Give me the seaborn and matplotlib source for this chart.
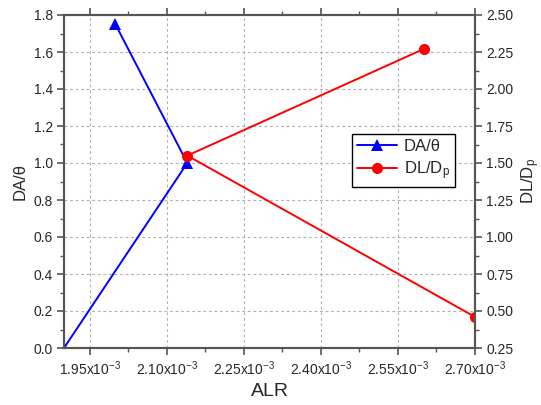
import matplotlib
matplotlib.use("Agg")
import matplotlib.pyplot as plt
import seaborn as sns
import pandas as pd
import numpy as np
from matplotlib.ticker import FixedLocator, FixedFormatter, MultipleLocator
from matplotlib.lines import Line2D

# data (ALR in units of 1e-3)
da_alr = [1.90, 2.14, 2.00]
da_val = [0.0, 1.0, 1.75]
dl_alr = [2.60, 2.14, 2.70]
dl_val = [2.27, 1.55, 0.46]
x_ticks = [1.95, 2.10, 2.25, 2.40, 2.55, 2.70]
x_tick_labels = [r'1.95x10$^{\mathregular{-3}}$', r'2.10x10$^{\mathregular{-3}}$',
                 r'2.25x10$^{\mathregular{-3}}$', r'2.40x10$^{\mathregular{-3}}$',
                 r'2.55x10$^{\mathregular{-3}}$', r'2.70x10$^{\mathregular{-3}}$']

sns.set_style("white")
plt.rcParams['font.family'] = ['Liberation Sans', 'DejaVu Sans']
plt.rcParams['mathtext.fontset'] = 'custom'
plt.rcParams['mathtext.rm'] = 'Liberation Sans'
plt.rcParams['mathtext.it'] = 'Liberation Sans'
plt.rcParams['mathtext.default'] = 'regular'

df_da = pd.DataFrame({'ALR': da_alr, 'val': da_val})
df_dl = pd.DataFrame({'ALR': dl_alr, 'val': dl_val})

fig = plt.figure(figsize=(5.41, 4.05), dpi=100)
ax = fig.add_axes([64/541, 1-348/405, (475-64)/541, (348-15)/405])
ax.set_axisbelow(True)
ax2 = ax.twinx()

sns.lineplot(data=df_da, x='ALR', y='val', sort=False, ax=ax, color='#0000ff',
             marker='^', markersize=8, markeredgewidth=0, linewidth=1.4, estimator=None)
sns.lineplot(data=df_dl, x='ALR', y='val', sort=False, ax=ax2, color='#ff0000',
             marker='o', markersize=8, markeredgewidth=0, linewidth=1.4, estimator=None)

ax.set_xlim(1.90, 2.70)
ax.set_ylim(0, 1.8)
ax2.set_ylim(0.25, 2.50)

ax.xaxis.set_major_locator(FixedLocator(x_ticks))
ax.xaxis.set_major_formatter(FixedFormatter(x_tick_labels))
ax.xaxis.set_minor_locator(FixedLocator([1.875 + 0.075*i for i in range(12)]))
ax.yaxis.set_major_locator(MultipleLocator(0.2))
ax.yaxis.set_minor_locator(MultipleLocator(0.1))
ax.yaxis.set_major_formatter(matplotlib.ticker.FormatStrFormatter('%.1f'))
ax2.yaxis.set_major_locator(MultipleLocator(0.25))
ax2.yaxis.set_minor_locator(MultipleLocator(0.125))
ax2.yaxis.set_major_formatter(matplotlib.ticker.FormatStrFormatter('%.2f'))

ax.grid(True, which='major', linestyle=(0, (2.5, 2.5)), color='#b0b0b0', linewidth=0.8)
ax2.grid(False)

spine_col = '#555555'
for a in (ax, ax2):
    for s in a.spines.values():
        s.set_color(spine_col)
        s.set_linewidth(1.5)
        s.set_visible(True)

ax.tick_params(axis='both', which='major', direction='out', length=5, width=1.2,
               color=spine_col, labelsize=10, top=True, bottom=True, left=True, right=False,
               labeltop=False, pad=3)
ax.tick_params(axis='both', which='minor', direction='out', length=3, width=1.0,
               color=spine_col, top=True, bottom=True, left=True, right=False)
ax2.tick_params(axis='y', which='major', direction='out', length=5, width=1.2,
                color=spine_col, labelsize=10, right=True, pad=3)
ax2.tick_params(axis='y', which='minor', direction='out', length=3, width=1.0,
                color=spine_col, right=True)

ax.set_xlabel('ALR', fontsize=14, labelpad=4)
ax.set_ylabel('DA/θ', fontsize=12, labelpad=4)
ax2.set_ylabel('DL/D$_p$', fontsize=12, labelpad=4)

handles = [Line2D([], [], color='#0000ff', marker='^', markersize=8, markeredgewidth=0, linewidth=1.4),
           Line2D([], [], color='#ff0000', marker='o', markersize=8, markeredgewidth=0, linewidth=1.4)]
leg = ax2.legend(handles, ['DA/θ', 'DL/D$_p$'], loc='upper left',
                 bbox_to_anchor=((352-64)/411, (348-134)/333), fontsize=12,
                 frameon=True, fancybox=False, edgecolor='black', framealpha=1,
                 handlelength=2.4, borderpad=0.3, labelspacing=0.3, handletextpad=0.4,
                 borderaxespad=0)
leg.get_frame().set_linewidth(1.0)

fig.savefig('out.png', dpi=100)
